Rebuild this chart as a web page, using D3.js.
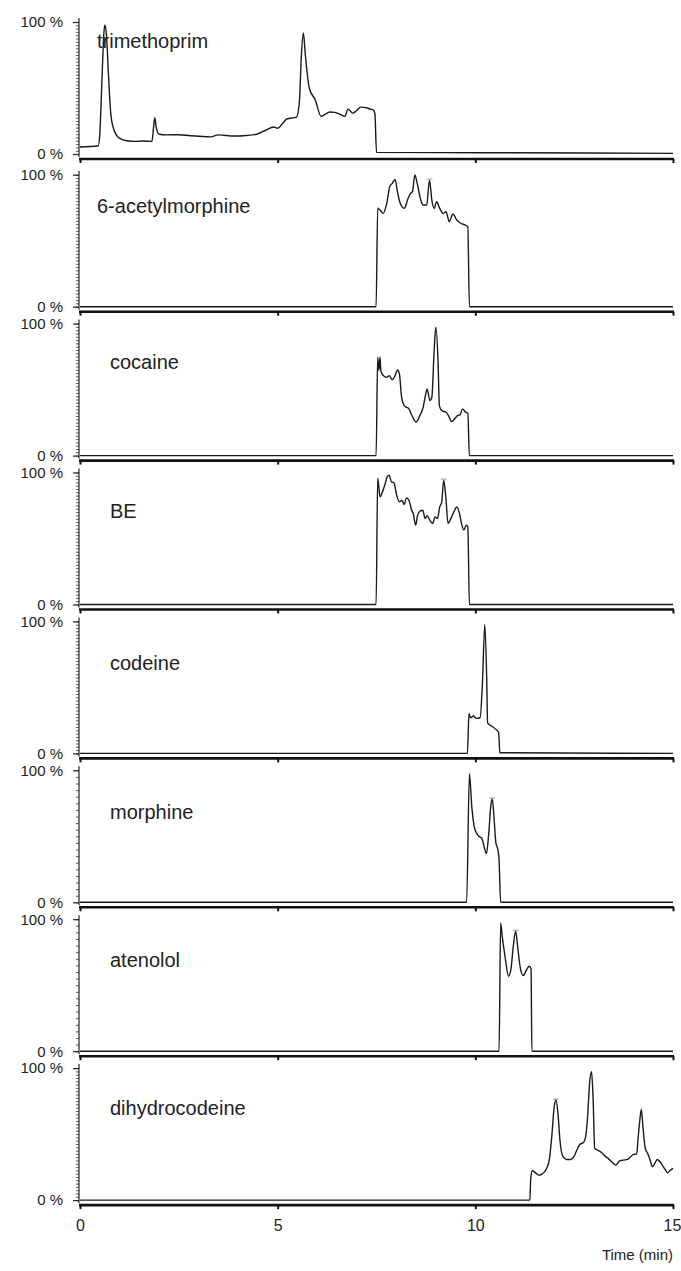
<!DOCTYPE html>
<html>
<head>
<meta charset="utf-8">
<script src="https://cdn.jsdelivr.net/npm/d3@7"></script>
<style>
  html, body { margin: 0; padding: 0; background: #fff; }
  svg { display: block; }
  text { font-family: "Liberation Sans", Arial, Helvetica, sans-serif; fill: #222; }
</style>
</head>
<body>
<svg id="chart" width="681" height="1271"></svg>
<script>
// ---------------- data ----------------
const compounds = ["trimethoprim", "6-acetylmorphine", "cocaine", "BE", "codeine", "morphine", "atenolol", "dihydrocodeine"];
const xTicks = [0, 5, 10, 15];
const yTickLabels = [0, 100];
const xLabel = "Time (min)";

// [time (min), relative intensity (%)]
const trimethoprim = [[0,5.3],[0.46,6.1],[0.5,15],[0.56,60],[0.6,90],[0.63,97.7],[0.67,90],[0.72,60],[0.78,30],[0.84,20],[0.93,14],[1.0,12],[1.18,10],[1.4,9.6],[1.6,9.8],[1.82,9.6],[1.86,20],[1.89,27.5],[1.93,20],[2.0,15],[2.2,14.5],[2.5,14.6],[2.8,13.8],[3.0,13.5],[3.3,13],[3.5,14.5],[3.9,13.6],[4.2,14],[4.47,15],[4.7,18],[4.9,20.5],[5.0,19.5],[5.15,24],[5.23,26.5],[5.48,28],[5.55,40],[5.6,75],[5.65,91.7],[5.7,75],[5.8,50],[5.95,41],[6.1,28.5],[6.2,30],[6.32,31.8],[6.45,31.5],[6.58,30],[6.7,28.5],[6.78,34],[6.9,31],[7.0,33],[7.1,35.5],[7.25,35],[7.34,34],[7.42,33.5],[7.46,30.5],[7.5,1.2],[10.2,1],[15,0.5]];
const acetylmorphine = [[0,0],[7.49,0],[7.53,74.7],[7.59,73.2],[7.67,70.7],[7.76,78.3],[7.84,91.4],[7.9,93.4],[7.97,96.4],[8.03,87],[8.1,78.3],[8.2,74.5],[8.3,82.1],[8.36,85.9],[8.41,87.1],[8.47,99.8],[8.53,93.4],[8.62,80.8],[8.68,77],[8.77,77],[8.84,95.9],[8.9,80.8],[8.96,74.5],[9.02,79.5],[9.1,74.5],[9.19,70.7],[9.26,72],[9.34,64.4],[9.43,70.2],[9.53,65.7],[9.63,63.2],[9.74,61.9],[9.81,60.6],[9.85,0],[15,0]];
const cocaine = [[0,0],[7.49,0],[7.53,74.5],[7.56,64.4],[7.59,74.5],[7.61,64.4],[7.67,60.6],[7.76,59.3],[7.82,60.6],[7.9,57.5],[7.97,60.6],[8.03,64.9],[8.08,61.9],[8.13,45.5],[8.2,37.9],[8.26,36.6],[8.32,35.4],[8.39,30.8],[8.5,25.3],[8.6,30.5],[8.68,36.6],[8.73,44.2],[8.78,50.5],[8.85,41.7],[8.9,44.2],[8.96,80.8],[9.0,97.2],[9.06,68.2],[9.09,37.9],[9.15,34.1],[9.26,32.8],[9.32,30.3],[9.4,25.8],[9.49,28.3],[9.55,30.3],[9.61,30.8],[9.68,35.4],[9.74,33.3],[9.81,32.1],[9.85,0],[15,0]];
const benzoylecgonine = [[0,0],[7.49,0],[7.53,95.9],[7.59,81.5],[7.65,85.3],[7.72,91.6],[7.77,96.7],[7.82,97.9],[7.88,92.9],[7.94,92.4],[8.01,82.8],[8.08,77.8],[8.14,79],[8.2,75.8],[8.26,80.8],[8.32,79],[8.39,71.4],[8.43,68.9],[8.49,60.1],[8.54,67.7],[8.6,70.7],[8.67,71.4],[8.73,65.1],[8.78,67.2],[8.85,63.9],[8.92,61.4],[8.98,66.4],[9.04,65.1],[9.1,73.9],[9.15,77.8],[9.2,94.2],[9.25,82.8],[9.31,61.4],[9.38,65.1],[9.44,68.9],[9.53,73.9],[9.6,68.9],[9.65,61.4],[9.71,56.4],[9.77,60.1],[9.81,58.8],[9.85,0],[15,0]];
const codeine = [[0,0],[9.8,0],[9.84,30.3],[9.88,27],[9.95,28.3],[10.03,26.5],[10.12,27],[10.18,53.5],[10.24,97.7],[10.29,53.5],[10.31,23.2],[10.41,20.7],[10.52,18.2],[10.59,15.7],[10.62,0.5],[15,0]];
const morphine = [[0,0],[9.78,0],[9.85,97.5],[9.91,72.7],[9.97,57.6],[10.03,52.5],[10.09,50],[10.16,48.7],[10.22,42.4],[10.28,36.9],[10.34,52.5],[10.39,72.7],[10.43,78.3],[10.47,65.2],[10.52,45],[10.57,39.9],[10.6,32.3],[10.64,0],[15,0]];
const atenolol = [[0,0],[10.6,0],[10.64,97.2],[10.68,87.1],[10.75,72],[10.84,56.8],[10.9,61.9],[10.96,79.5],[11.02,90.9],[11.07,79.5],[11.13,64.4],[11.21,57.3],[11.3,61.9],[11.36,64.4],[11.41,62.4],[11.43,0],[15,0]];
const dihydrocodeine = [[0,0],[11.38,0],[11.4,15.2],[11.44,22.2],[11.51,21],[11.6,18.9],[11.68,19.7],[11.79,23.2],[11.87,30.3],[11.94,50.5],[11.99,69.4],[12.04,75.8],[12.09,65.7],[12.14,45.5],[12.21,33.3],[12.31,30.8],[12.41,30.8],[12.5,33.3],[12.56,37.4],[12.65,42.4],[12.73,43.4],[12.79,48],[12.84,63.1],[12.89,88.4],[12.94,97.2],[12.98,75.8],[13.02,39.1],[13.09,37.9],[13.2,35.8],[13.28,33.3],[13.36,31.6],[13.45,29],[13.56,26.5],[13.64,29.5],[13.74,30.3],[13.85,30.8],[13.93,32.8],[14.0,34.6],[14.08,34.8],[14.12,48],[14.17,63.1],[14.2,68.7],[14.24,55.5],[14.3,39.1],[14.36,35.4],[14.42,30.3],[14.48,25.3],[14.54,27.8],[14.6,30.8],[14.67,29],[14.73,26.5],[14.8,23.2],[14.86,20.7],[14.92,22.2],[15,24]];
const traces = [trimethoprim, acetylmorphine, cocaine, benzoylecgonine, codeine, morphine, atenolol, dihydrocodeine];
// peaks carrying a small apex marker: [time, intensity] (null = none)
const apexMarks = [null, [8.84,95.9], null, [9.2,94.2], null, [10.43,78.3], [11.02,90.9], [12.04,75.8]];
// minor tick interval on the intensity axis per panel (%)
const minorStep = [2.5, 2.5, 2.5, 2.5, 2.5, 5, 5, 2.5];

// ---------------- layout ----------------
const svg = d3.select("#chart");
const x = d3.scaleLinear().domain([0, 15]).range([80, 673]);
const axisYs = compounds.map((c, i) => i === 0 ? 159 : 311.7 + (i - 1) * 148.9);
const labelOffset = [21, 33, 40, 40, 43, 43, 43, 42];
const labelX = [97, 97, 110, 110, 110, 110, 110, 110];

compounds.forEach((name, i) => {
  const axisY = axisYs[i];
  const zeroY = axisY - 5;
  const topY = axisY - 137;
  const y = d3.scaleLinear().domain([0, 100]).range([zeroY, topY]);
  const g = svg.append("g");

  // minor ticks on intensity axis
  const minorVals = d3.range(0, 100 + 1e-6, minorStep[i]);
  const minor = g.append("g").attr("transform", "translate(79,0)")
    .call(d3.axisLeft(y).tickValues(minorVals).tickSize(3).tickFormat(""));
  minor.select(".domain").remove();
  minor.selectAll("line").attr("stroke", "#333").attr("stroke-width", 0.8);

  // major y axis
  const yAx = g.append("g").attr("transform", "translate(79,0)")
    .call(d3.axisLeft(y).tickValues(yTickLabels).tickSize(6).tickPadding(10).tickFormat(d => d + " %"));
  yAx.select(".domain").attr("d", `M0,${topY - 4}V${zeroY + 3}`).attr("stroke", "#222").attr("stroke-width", 1.2);
  yAx.selectAll(".tick line").attr("stroke", "#222").attr("stroke-width", 1.2);
  yAx.selectAll(".tick text").style("font-size", "15px").style("font-family", '"Liberation Sans", Arial, sans-serif').attr("fill", "#222");

  // x axis (thick base line)
  const isLast = i === compounds.length - 1;
  const xAx = g.append("g").attr("transform", `translate(0,${axisY})`)
    .call(d3.axisBottom(x).tickValues(xTicks).tickSize(4).tickPadding(11)
      .tickFormat(isLast ? d3.format("d") : ""));
  xAx.select(".domain").attr("d", `M79,0H${x(15) + 1}`).attr("stroke", "#111").attr("stroke-width", 2.6);
  xAx.selectAll(".tick line").attr("stroke", "#111").attr("stroke-width", 2);
  xAx.selectAll(".tick text").style("font-size", "16px").style("font-family", '"Liberation Sans", Arial, sans-serif').attr("fill", "#222")
    .attr("dx", d => d === 15 ? -1 : 0);

  // trace
  const line = d3.line().x(d => x(d[0])).y(d => y(d[1])).curve(d3.curveMonotoneX);
  g.append("path").datum(traces[i]).attr("d", line)
    .attr("fill", "none").attr("stroke", "#1a1a1a").attr("stroke-width", 1.4).attr("stroke-linejoin", "round");

  // apex marker
  if (apexMarks[i]) {
    const [t, v] = apexMarks[i];
    g.append("line").attr("x1", x(t) - 3).attr("x2", x(t) + 3)
      .attr("y1", y(v) - 1).attr("y2", y(v) - 1)
      .attr("stroke", "#999").attr("stroke-width", 1);
  }

  // compound label
  g.append("text").attr("x", labelX[i]).attr("y", topY + labelOffset[i])
    .attr("dominant-baseline", "middle")
    .style("font-size", "20px").text(name);
});

// x-axis title
svg.append("text").attr("x", 673).attr("y", 1256).attr("text-anchor", "end")
  .attr("dominant-baseline", "middle").style("font-size", "15px").text(xLabel);
</script>
</body>
</html>
